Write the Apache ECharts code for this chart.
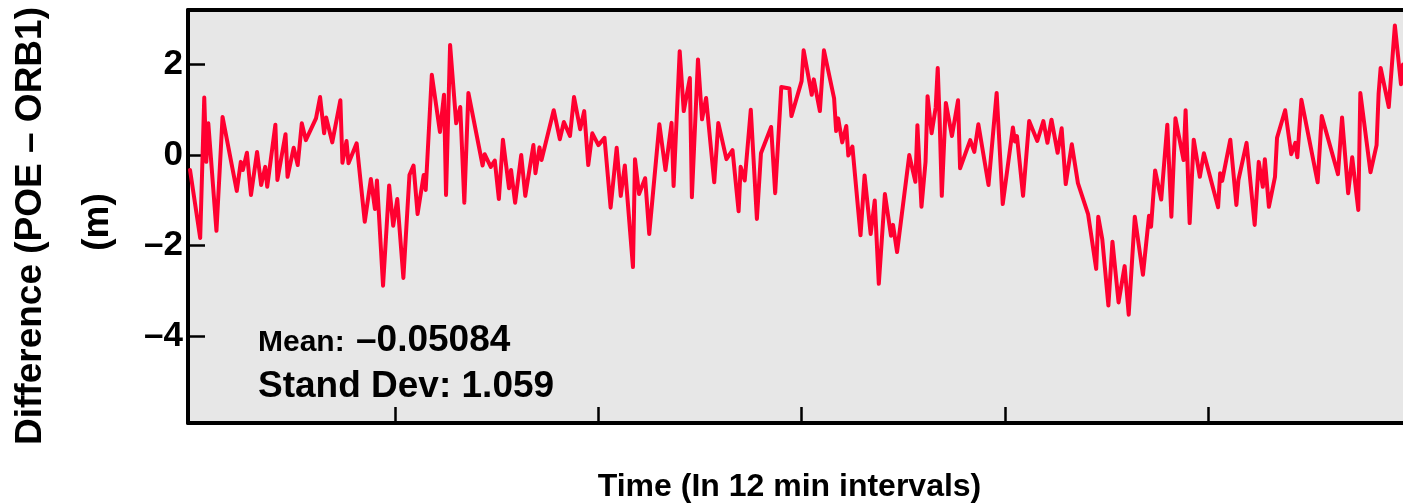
<!DOCTYPE html>
<html>
<head>
<meta charset="utf-8">
<script src="https://cdn.jsdelivr.net/npm/echarts@6/dist/echarts.min.js"></script>
<style>
  html, body { margin: 0; padding: 0; background: #fff; }
  #chart { width: 1403px; height: 504px; }
</style>
</head>
<body>
<div id="chart"></div>
<script>
// time index (12 min intervals) of each vertex
const times = [
  1, 6, 8, 9, 10, 14, 17, 24, 26, 27, 29, 31, 34, 36, 38, 39, 43, 44, 48, 49,
  52, 54, 56, 58, 63, 65, 67, 68, 71, 75, 76, 78, 79, 83, 87, 90, 92, 93, 96, 99,
  101, 103, 106, 109, 111, 113, 116, 117, 120, 124, 126, 127, 129, 132, 134, 136, 138, 145, 146, 149,
  151, 153, 155, 158, 159, 161, 164, 166, 170, 171, 173, 174, 180, 183, 185, 188, 190, 193, 195, 197,
  199, 202, 205, 208, 211, 213, 215, 219, 220, 222, 225, 227, 232, 235, 238, 239, 242, 244, 247, 248,
  251, 253, 255, 259, 261, 265, 268, 271, 272, 274, 277, 280, 282, 287, 289, 292, 296, 297, 302, 303,
  307, 308, 311, 313, 318, 319, 320, 322, 324, 325, 327, 331, 333, 336, 338, 340, 343, 346, 347, 349,
  355, 358, 359, 361, 363, 364, 366, 368, 369, 370, 371, 373, 376, 379, 380, 385, 387, 389, 394, 398,
  401, 406, 407, 408, 411, 414, 418, 421, 423, 425, 428, 430, 432, 435, 438, 443, 447, 448, 450, 453,
  455, 458, 461, 463, 466, 470, 473, 474, 476, 479, 482, 484, 486, 490, 491, 493, 495, 498, 500, 507,
  508, 509, 513, 516, 517, 521, 525, 527, 529, 530, 532, 535, 536, 540, 543, 545, 546, 548, 556, 558,
  566, 568, 571, 573, 576, 577, 582, 585, 586, 587, 591, 594, 597, 598
];
// difference POE - ORB1 (m)
const diffs = [
  -0.33, -1.83, 1.27, -0.15, 0.70, -1.67, 0.84, -0.79, -0.15, -0.33, 0.05, -0.88, 0.07, -0.66, -0.26, -0.70, 0.67, -0.55, 0.46, -0.48,
  0.16, -0.22, 0.70, 0.33, 0.81, 1.28, 0.48, 0.83, 0.28, 1.21, -0.17, 0.31, -0.18, 0.26, -1.47, -0.53, -1.19, -0.56, -2.88, -0.67,
  -1.56, -0.97, -2.71, -0.44, -0.23, -1.30, -0.44, -0.77, 1.77, 0.51, 1.33, -0.88, 2.43, 0.70, 1.06, -1.05, 1.37, -0.23, 0.02, -0.26,
  -0.12, -0.97, 0.34, -0.73, -0.33, -1.05, 0.00, -0.90, 0.22, -0.40, 0.17, -0.11, 0.99, 0.35, 0.73, 0.42, 1.28, 0.57, 0.97, -0.22,
  0.48, 0.22, 0.38, -1.16, 0.16, -0.90, -0.23, -2.47, -0.09, -0.86, -0.51, -1.74, 0.68, -0.33, 0.71, -0.68, 2.29, 0.97, 1.70, -0.93,
  2.11, 0.79, 1.26, -0.60, 0.71, -0.09, 0.11, -1.24, -0.26, -0.56, 1.00, -1.41, 0.04, 0.62, -0.84, 1.50, 1.47, 0.86, 1.63, 2.31,
  1.33, 1.67, 0.97, 2.31, 1.25, 0.53, 0.81, 0.28, 0.64, -0.01, 0.19, -1.77, -0.45, -1.74, -1.00, -2.84, -0.86, -1.78, -1.54, -2.14,
  0.00, -0.59, 0.66, -1.14, -0.15, 1.30, 0.48, 1.05, 1.92, 0.70, -0.90, 1.15, 0.42, 1.21, -0.29, 0.33, 0.07, 0.68, -0.66, 1.37,
  -1.08, 0.61, 0.30, 0.42, -0.90, 0.75, 0.31, 0.75, 0.27, 0.78, 0.05, 0.59, -0.64, 0.24, -0.62, -1.30, -2.51, -1.36, -1.86, -3.32,
  -1.91, -3.25, -2.45, -3.52, -1.36, -2.64, -1.34, -1.58, -0.34, -0.98, 0.67, -1.36, 0.81, -0.11, 0.99, -1.50, 0.34, -0.48, 0.04, -1.15,
  -0.40, -0.57, 0.34, -1.10, -0.55, 0.27, -1.54, -0.15, -0.70, -0.09, -1.14, -0.48, 0.38, 0.99, 0.02, 0.27, -0.05, 1.22, -0.60, 0.86,
  -0.42, 0.83, -0.84, -0.05, -1.21, 1.37, -0.38, 0.22, 1.36, 1.92, 1.06, 2.86, 1.56, 2.00
];
const yTicks = [-4, -2, 0, 2];
const xTicks = [102, 202, 302, 402, 502];
const meanText = '–0.05084';
const sdText = 'Stand Dev: 1.059';

const font = 'Liberation Sans, Arial, Helvetica, sans-serif';
const chart = echarts.init(document.getElementById('chart'));

const option = {
  animation: false,
  backgroundColor: '#fff',
  grid: {
    left: 188, right: 0, top: 10, bottom: 81,
    show: true, backgroundColor: '#e7e7e7', borderWidth: 0
  },
  xAxis: [{
    type: 'value', min: 0, max: 598,
    axisLine: { show: true, onZero: false, lineStyle: { color: '#000', width: 4 } },
    axisTick: { show: true, inside: true, length: 16, customValues: xTicks, lineStyle: { color: '#000', width: 2.5 } },
    axisLabel: { show: false },
    splitLine: { show: false }
  }, {
    type: 'value', min: 0, max: 598, position: 'top',
    axisLine: { show: true, onZero: false, lineStyle: { color: '#000', width: 4 } },
    axisTick: { show: false },
    axisLabel: { show: false },
    splitLine: { show: false }
  }],
  yAxis: {
    type: 'value', min: -5.91, max: 3.2,
    axisLine: { show: true, onZero: false, lineStyle: { color: '#000', width: 4 } },
    axisTick: { show: true, inside: true, length: 17, customValues: yTicks, lineStyle: { color: '#000', width: 2.5 } },
    axisLabel: {
      customValues: yTicks,
      margin: 5,
      color: '#000', fontSize: 35, fontWeight: 'bold', fontFamily: font,
      formatter: v => (v < 0 ? '–' + Math.abs(v) : String(v))
    },
    splitLine: { show: false }
  },
  series: [{
    type: 'line',
    data: times.map((t, i) => [t, diffs[i]]),
    symbol: 'none',
    lineStyle: { color: '#ff0030', width: 4, join: 'round', cap: 'round' }
  }],
  graphic: [
    { type: 'text', x: 30.5, y: 226, rotation: Math.PI / 2,
      style: { text: 'Difference (POE – ORB1)', fill: '#000', font: 'bold 37px ' + font, align: 'center', verticalAlign: 'middle' } },
    { type: 'text', x: 97.5, y: 222, rotation: Math.PI / 2,
      style: { text: '(m)', fill: '#000', font: 'bold 37px ' + font, align: 'center', verticalAlign: 'middle' } },
    { type: 'text', x: 789.5, y: 487.5,
      style: { text: 'Time (In 12 min intervals)', fill: '#000', font: 'bold 32px ' + font, align: 'center', verticalAlign: 'middle' } },
    { type: 'text', x: 258, y: 342.5,
      style: { text: 'Mean:', fill: '#000', font: 'bold 30px ' + font, align: 'left', verticalAlign: 'middle' } },
    { type: 'text', x: 356, y: 340.7,
      style: { text: meanText, fill: '#000', font: 'bold 37px ' + font, align: 'left', verticalAlign: 'middle' } },
    { type: 'text', x: 258, y: 386.5,
      style: { text: sdText, fill: '#000', font: 'bold 37px ' + font, align: 'left', verticalAlign: 'middle' } }
  ]
};
chart.setOption(option);
</script>
</body>
</html>
